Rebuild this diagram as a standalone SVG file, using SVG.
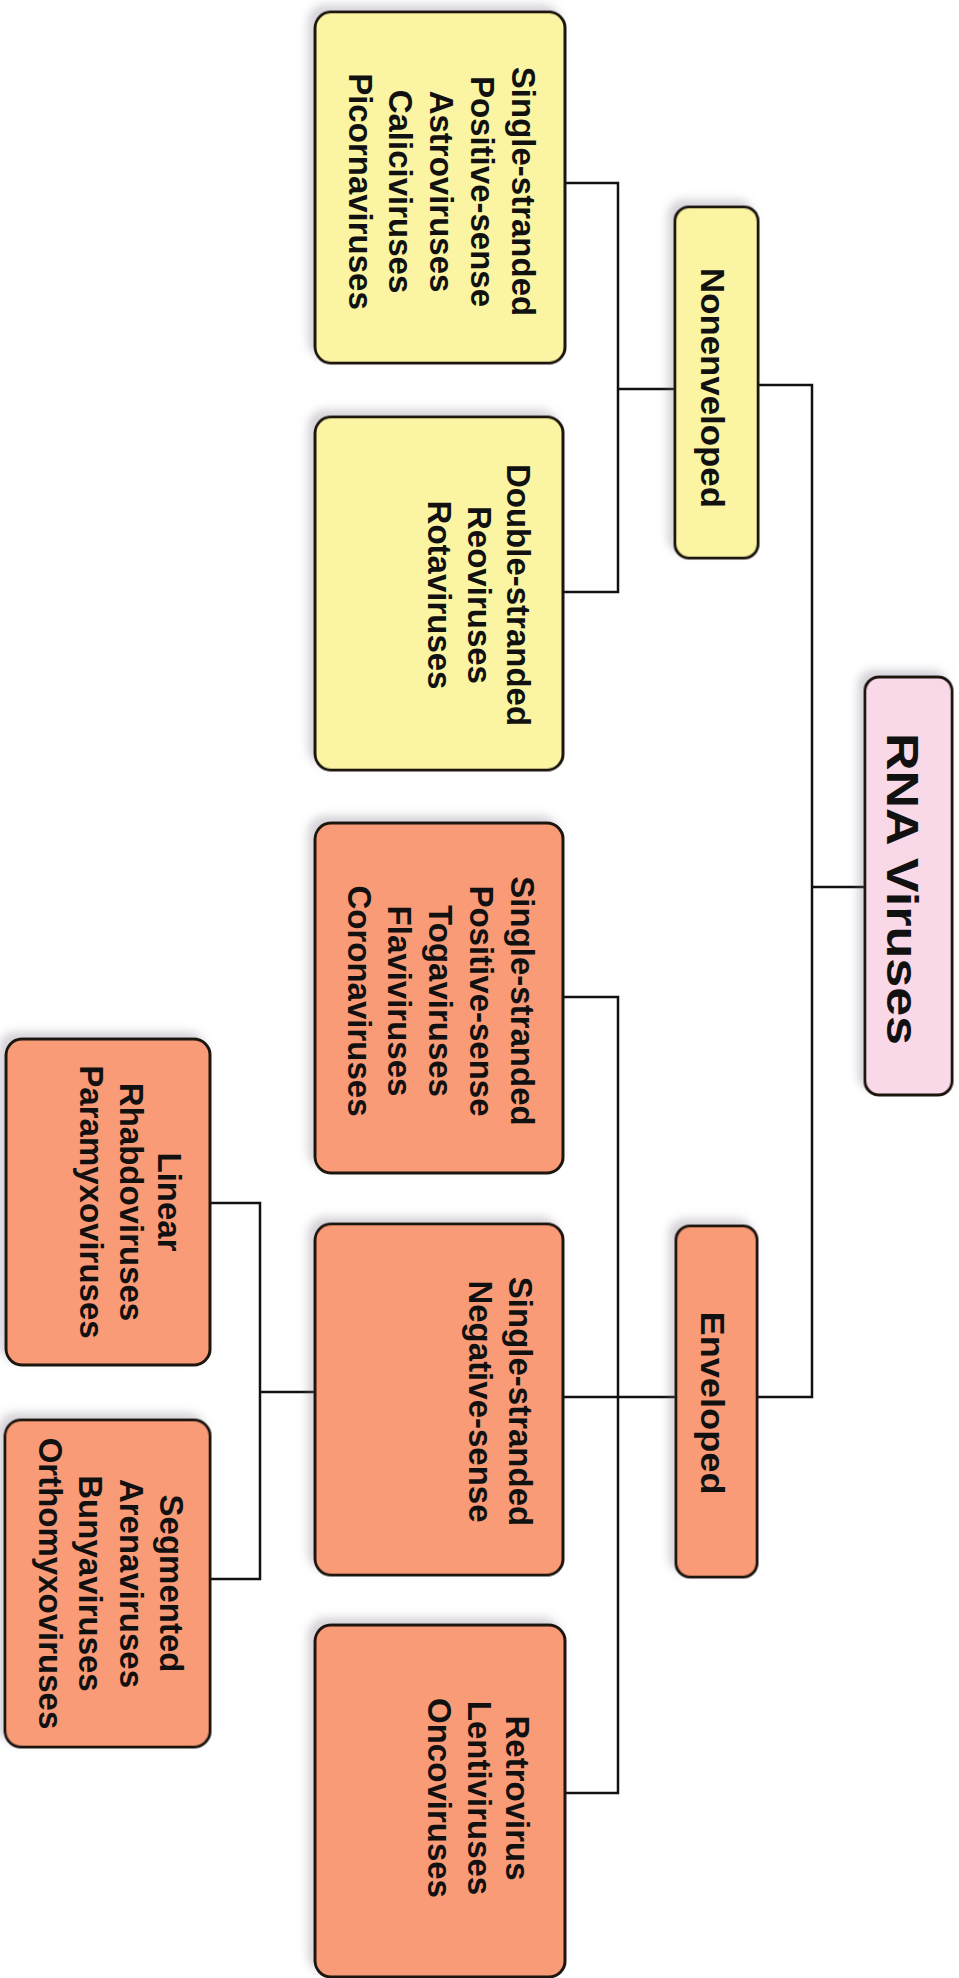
<svg xmlns="http://www.w3.org/2000/svg" width="959" height="1978" viewBox="0 0 959 1978">
<defs>
<filter id="sh" x="-20%" y="-20%" width="140%" height="140%">
<feDropShadow dx="-6" dy="6" stdDeviation="4" flood-color="#7a6f80" flood-opacity="0.3"/>
</filter>
<style>
.box{stroke:#1b1410;stroke-width:3;filter:url(#sh)}
.y{fill:#fbf5a3}
.o{fill:#f99b77}
.p{fill:#f9d8e8}
.t{font-family:"Liberation Sans",Arial,Helvetica,sans-serif;font-weight:bold;font-size:33px;fill:#111;text-anchor:middle}
.big{font-size:44px}
.ln{fill:none;stroke:#111;stroke-width:2.5}
</style>
</defs>
<rect width="959" height="1978" fill="#ffffff"/>
<g id="connectors">
<polyline class="ln" points="865,887 812,887"/>
<polyline class="ln" points="758,385 812,385 812,1397 757,1397"/>
<polyline class="ln" points="675,389 618,389"/>
<polyline class="ln" points="565,183 618,183 618,592 563,592"/>
<polyline class="ln" points="676,1397 563,1397"/>
<polyline class="ln" points="563,997 618,997 618,1793 565,1793"/>
<polyline class="ln" points="315,1392 260,1392"/>
<polyline class="ln" points="210,1203 260,1203 260,1579 210,1579"/>
</g>
<g id="rna-viruses" transform="translate(908.5,886) rotate(90)">
<rect class="box p" x="-209" y="-43.5" width="418" height="87" rx="14"/>
<text class="t big" x="3" y="21.5" textLength="312" lengthAdjust="spacingAndGlyphs">RNA Viruses</text>
</g>
<g id="nonenveloped" transform="translate(716.5,382.5) rotate(90)">
<rect class="box y" x="-175.5" y="-41.5" width="351" height="83" rx="14"/>
<text class="t" x="5.5" y="15.5" textLength="240" lengthAdjust="spacingAndGlyphs">Nonenveloped</text>
</g>
<g id="enveloped" transform="translate(716.5,1401.5) rotate(90)">
<rect class="box o" x="-175.5" y="-40.5" width="351" height="81" rx="14"/>
<text class="t" x="1.5" y="15.5" textLength="183" lengthAdjust="spacingAndGlyphs">Enveloped</text>
</g>
<g id="ss-positive-nonenv" transform="translate(440,187.5) rotate(90)">
<rect class="box y" x="-175.5" y="-125" width="351" height="250" rx="16"/>
<text class="t" x="4"><tspan x="4" y="-72">Single-stranded</tspan><tspan x="4" y="-31">Positive-sense</tspan><tspan x="4" y="10">Astroviruses</tspan><tspan x="4" y="51">Caliciviruses</tspan><tspan x="4" y="91">Picornaviruses</tspan></text>
</g>
<g id="double-stranded" transform="translate(439,593.5) rotate(90)">
<rect class="box y" x="-176.5" y="-124" width="353" height="248" rx="16"/>
<text class="t"><tspan x="1.5" y="-68">Double-stranded</tspan><tspan x="1.5" y="-29">Reoviruses</tspan><tspan x="1.5" y="11">Rotaviruses</tspan></text>
</g>
<g id="ss-positive-env" transform="translate(439,998) rotate(90)">
<rect class="box o" x="-175" y="-124" width="350" height="248" rx="16"/>
<text class="t"><tspan x="3" y="-72">Single-stranded</tspan><tspan x="3" y="-31">Positive-sense</tspan><tspan x="3" y="10">Togaviruses</tspan><tspan x="3" y="51">Flaviviruses</tspan><tspan x="3" y="91">Coronaviruses</tspan></text>
</g>
<g id="ss-negative" transform="translate(439,1399.5) rotate(90)">
<rect class="box o" x="-175.5" y="-124" width="351" height="248" rx="16"/>
<text class="t"><tspan x="2" y="-70">Single-stranded</tspan><tspan x="2" y="-30">Negative-sense</tspan></text>
</g>
<g id="retrovirus" transform="translate(440,1801) rotate(90)">
<rect class="box o" x="-176" y="-125" width="352" height="250" rx="16"/>
<text class="t"><tspan x="-3" y="-66">Retrovirus</tspan><tspan x="-3" y="-28">Lentiviruses</tspan><tspan x="-3" y="12">Oncoviruses</tspan></text>
</g>
<g id="linear" transform="translate(108,1202) rotate(90)">
<rect class="box o" x="-163" y="-102" width="326" height="204" rx="16"/>
<text class="t"><tspan x="0" y="-50">Linear</tspan><tspan x="0" y="-12">Rhabdoviruses</tspan><tspan x="0" y="28">Paramyxoviruses</tspan></text>
</g>
<g id="segmented" transform="translate(107.5,1583.5) rotate(90)">
<rect class="box o" x="-163.5" y="-102.5" width="327" height="205" rx="16"/>
<text class="t"><tspan x="0" y="-52">Segmented</tspan><tspan x="0" y="-12">Arenaviruses</tspan><tspan x="0" y="29">Bunyaviruses</tspan><tspan x="0" y="69">Orthomyxoviruses</tspan></text>
</g>
</svg>
